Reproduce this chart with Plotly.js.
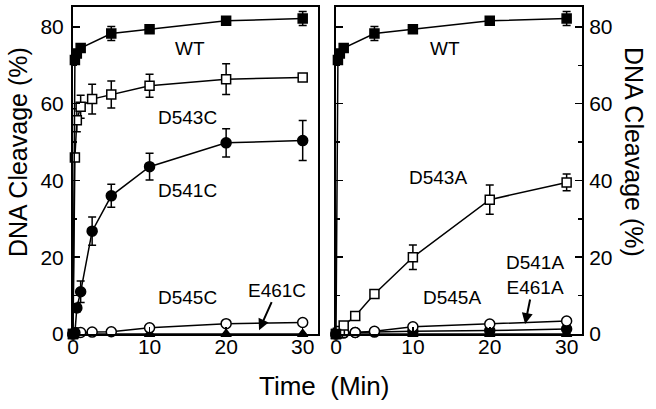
<!DOCTYPE html>
<html>
<head>
<meta charset="utf-8">
<script src="https://cdn.plot.ly/plotly-3.0.1.min.js"></script>
<style>html,body{margin:0;padding:0;background:#fff}#chart{width:656px;height:409px}</style>
</head>
<body>
<div id="chart"></div>
<script>
// ---- Data ----
// Left panel (cysteine mutants)
const tWT = [0, 0.25, 0.5, 1, 5, 10, 20, 30];
const wtLeft = [0, 71.4, 73.1, 74.5, 78.3, 79.4, 81.6, 82.2];
const wtLeftErr = [0, 0.8, 0.8, 0.8, 1.8, 0.8, 0.8, 1.8];

const tD543C = [0, 0.25, 0.5, 1, 2.5, 5, 10, 20, 30];
const d543c = [0, 46, 55.7, 59.2, 61.2, 62.4, 64.7, 66.4, 66.8];
const d543cErr = [0, 1, 3, 3, 3.9, 3.5, 3, 4, 0.8];

const tD541C = [0, 0.25, 0.5, 1, 2.5, 5, 10, 20, 30];
const d541c = [0, 0.3, 6.8, 11, 26.8, 36, 43.6, 49.8, 50.4];
const d541cErr = [0, 0, 1, 2.8, 3.7, 3, 3.5, 3.7, 5.2];

const tD545C = [0, 0.5, 1, 2.5, 5, 10, 20, 30];
const d545c = [0, 0.3, 0.4, 0.5, 0.6, 1.6, 2.7, 3.0];

const tE461C = [0, 10, 20, 30];
const e461c = [0, 0, 0, 0];

// Right panel (alanine mutants)
const wtRight = [0, 71.4, 73.1, 74.5, 78.3, 79.4, 81.6, 82.2];
const wtRightErr = [0, 0.8, 0.8, 0.8, 1.8, 0.8, 0.8, 1.8];

const tD543A = [0, 0.25, 0.5, 1, 2.5, 5, 10, 20, 30];
const d543a = [0, 0.3, 0.8, 2.2, 4.7, 10.4, 20, 35, 39.5];
const d543aErr = [0, 0, 0, 0.3, 0.5, 1, 3.2, 3.8, 2.2];

const tD541A = [0, 0.25, 0.5, 1, 2.5, 5, 10, 20, 30];
const d541a = [0, 0.2, 0.3, 0.3, 0.4, 0.5, 0.7, 0.9, 1.3];

const tD545A = [0, 0.5, 1, 2.5, 5, 10, 20, 30];
const d545a = [0, 0.2, 0.3, 0.4, 0.7, 1.9, 2.6, 3.4];

const tE461A = [0, 10, 20, 30];
const e461a = [0, 0, 0, 0];

const yTicks = [0, 20, 40, 60, 80];
const xTicks = [0, 10, 20, 30];

// ---- Styles ----
const FONT = 'Arial, "Liberation Sans", sans-serif';
function series(x, y, sym, filled, xa, ya, err, size) {
  const tr = {
    type: 'scatter', mode: 'lines+markers', x: x, y: y, xaxis: xa, yaxis: ya,
    cliponaxis: false, showlegend: false,
    line: {color: '#000', width: 1.5},
    marker: {symbol: sym, size: size || 9, color: filled ? '#000' : '#fff',
             line: {color: '#000', width: 1.5}}
  };
  if (err) tr.error_y = {type: 'data', array: err, visible: true, color: '#000', thickness: 1.5, width: 4};
  return tr;
}

const data = [
  series(tE461C, e461c, 'triangle-up', true, 'x', 'y', null, 9),
  series(tD545C, d545c, 'circle', false, 'x', 'y', null, 10),
  series(tD541C, d541c, 'circle', true, 'x', 'y', d541cErr, 10),
  series(tD543C, d543c, 'square', false, 'x', 'y', d543cErr, 9),
  series(tWT, wtLeft, 'square', true, 'x', 'y', wtLeftErr, 9),

  series(tE461A, e461a, 'triangle-up', true, 'x2', 'y2', null, 9),
  series(tD541A, d541a, 'circle', true, 'x2', 'y2', null, 10),
  series(tD545A, d545a, 'circle', false, 'x2', 'y2', null, 10),
  series(tD543A, d543a, 'square', false, 'x2', 'y2', d543aErr, 9),
  series(tWT, wtRight, 'square', true, 'x2', 'y2', wtRightErr, 9)
];

const W = 656, H = 409;
const px = v => v / W, py = v => 1 - v / H;

const xBase = {
  range: [0, 32], tickvals: xTicks, ticktext: xTicks.map(String),
  ticks: 'inside', ticklen: 7, tickwidth: 1.5, tickcolor: '#000',
  showline: true, linewidth: 2, linecolor: '#000', mirror: true,
  showgrid: false, zeroline: false, ticklabelstandoff: -7,
  tickfont: {family: FONT, size: 21, color: '#000'}
};
const yBase = {
  range: [0, 85.2], tickvals: yTicks, ticktext: yTicks.map(String),
  ticks: 'inside', ticklen: 7, tickwidth: 1.5, tickcolor: '#000',
  minor: {tickvals: [10, 30, 50, 70], ticks: 'inside', ticklen: 4, tickwidth: 1.5, tickcolor: '#000'},
  showline: true, linewidth: 2, linecolor: '#000',
  showgrid: false, zeroline: false,
  tickfont: {family: FONT, size: 21, color: '#000'}
};

const lbl = {family: FONT, size: 19, color: '#000'};
const ttl = {family: FONT, size: 25, color: '#000'};

const layout = {
  width: W, height: H,
  margin: {l: 0, r: 0, t: 0, b: 0},
  paper_bgcolor: '#fff', plot_bgcolor: '#fff',
  showlegend: false,
  xaxis: Object.assign({}, xBase, {domain: [px(73), px(318)], anchor: 'y'}),
  yaxis: Object.assign({}, yBase, {domain: [py(334), py(7)], anchor: 'x', mirror: true, ticklabelstandoff: 3}),
  xaxis2: Object.assign({}, xBase, {domain: [px(336), px(582)], anchor: 'y2'}),
  yaxis2: Object.assign({}, yBase, {domain: [py(334), py(7)], anchor: 'x2', side: 'right', mirror: 'ticks', ticklabelstandoff: 1}),
  annotations: [
    {xref: 'x', yref: 'y', x: 15.3, y: 74.5, text: 'WT', showarrow: false, xanchor: 'center', yanchor: 'middle', font: lbl},
    {xref: 'x', yref: 'y', x: 15.0, y: 56.5, text: 'D543C', showarrow: false, xanchor: 'center', yanchor: 'middle', font: lbl},
    {xref: 'x', yref: 'y', x: 15.0, y: 37.5, text: 'D541C', showarrow: false, xanchor: 'center', yanchor: 'middle', font: lbl},
    {xref: 'x', yref: 'y', x: 15.0, y: 9.6, text: 'D545C', showarrow: false, xanchor: 'center', yanchor: 'middle', font: lbl},
    {xref: 'x', yref: 'y', x: 24.3, y: 1.0, ax: 18, ay: -40, text: 'E461C', showarrow: true,
     arrowhead: 2, arrowsize: 1.1, arrowwidth: 2, arrowcolor: '#000', font: lbl},

    {xref: 'x2', yref: 'y2', x: 14.2, y: 74.5, text: 'WT', showarrow: false, xanchor: 'center', yanchor: 'middle', font: lbl},
    {xref: 'x2', yref: 'y2', x: 13.3, y: 40.9, text: 'D543A', showarrow: false, xanchor: 'center', yanchor: 'middle', font: lbl},
    {xref: 'x2', yref: 'y2', x: 15.1, y: 9.6, text: 'D545A', showarrow: false, xanchor: 'center', yanchor: 'middle', font: lbl},
    {xref: 'x2', yref: 'y2', x: 24.6, y: 2.6, ax: 10, ay: -49, text: 'D541A<br>E461A', showarrow: true,
     arrowhead: 2, arrowsize: 1.1, arrowwidth: 2, arrowcolor: '#000', font: lbl},

    {xref: 'paper', yref: 'paper', x: px(324), y: py(386), xanchor: 'center', yanchor: 'middle',
     text: 'Time&nbsp;&nbsp;(Min)', showarrow: false, font: {family: FONT, size: 26, color: '#000'}},
    {xref: 'paper', yref: 'paper', x: px(18), y: py(152), xanchor: 'center', yanchor: 'middle',
     text: 'DNA Cleavage (%)', textangle: -90, showarrow: false, font: ttl},
    {xref: 'paper', yref: 'paper', x: px(634), y: py(152), xanchor: 'center', yanchor: 'middle',
     text: 'DNA Cleavage (%)', textangle: 90, showarrow: false, font: ttl}
  ]
};

Plotly.newPlot('chart', data, layout, {displayModeBar: false, staticPlot: true});
</script>
</body>
</html>
